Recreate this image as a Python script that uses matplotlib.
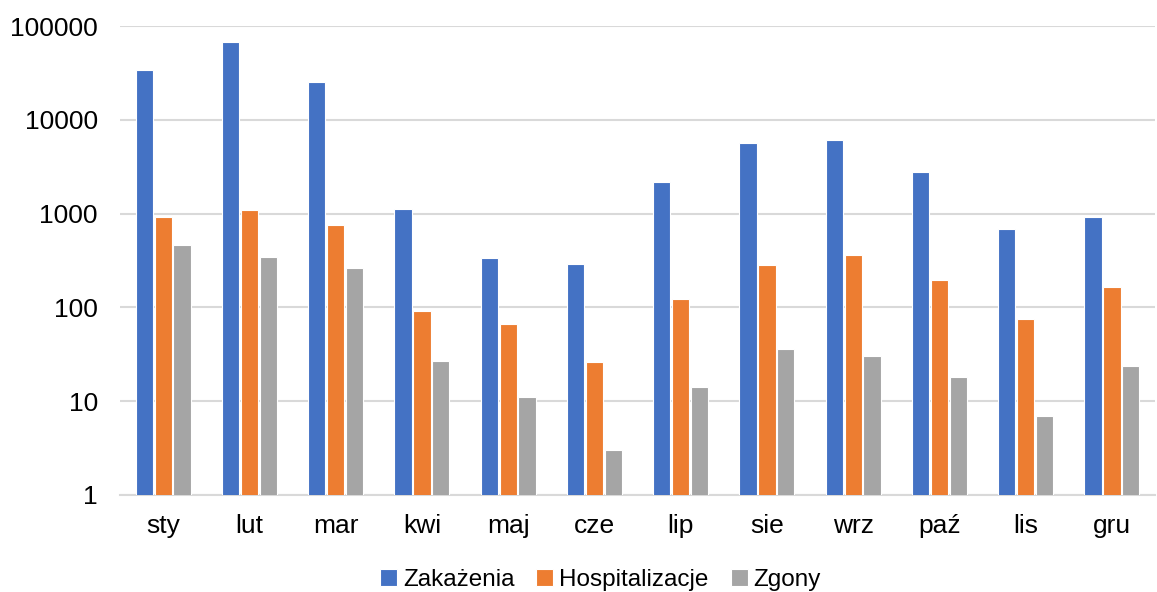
import numpy as np
import matplotlib.pyplot as plt

plt.rcParams['font.family'] = ['Liberation Sans', 'DejaVu Sans']

miesiace = ['sty', 'lut', 'mar', 'kwi', 'maj', 'cze', 'lip', 'sie', 'wrz', 'paź', 'lis', 'gru']
zakazenia = [34000, 67000, 25000, 1130, 340, 290, 2150, 5600, 6100, 2750, 680, 920]
hospitalizacje = [910, 1090, 750, 91, 66, 26, 124, 280, 360, 195, 75, 167]
zgony = [460, 345, 260, 27, 11, 3, 14, 36, 30, 18, 7, 24]

serie = [('Zakażenia', zakazenia, '#4472c4'),
         ('Hospitalizacje', hospitalizacje, '#ed7d31'),
         ('Zgony', zgony, '#a5a5a5')]

fig = plt.figure(figsize=(11.57, 5.92), dpi=100)
ax = fig.add_axes([120 / 1157, 1 - 495 / 592, 1035 / 1157, 469 / 592])

x = np.arange(len(miesiace))
w = 0.2
for i, (nazwa, wartosci, kolor) in enumerate(serie):
    ax.bar(x + (i - 1) * (w + 0.02), wartosci, width=w, color=kolor,
           edgecolor='white', linewidth=0.8, label=nazwa, zorder=3)

ax.set_yscale('log')
ax.set_ylim(1, 100000)
ax.set_xlim(-0.5, len(miesiace) - 0.5)
ax.set_yticks([1, 10, 100, 1000, 10000, 100000])
ax.set_yticklabels(['1', '10', '100', '1000', '10000', '100000'])
ax.yaxis.set_minor_locator(plt.NullLocator())
ax.set_xticks(x)
ax.set_xticklabels(miesiace)
ax.tick_params(axis='both', length=0, labelsize=19, colors='#000000')
ax.tick_params(axis='x', pad=14)
ax.tick_params(axis='y', pad=16)
ax.grid(axis='y', color='#d9d9d9', linewidth=1.5, zorder=0)
for s in ['top', 'right', 'left']:
    ax.spines[s].set_visible(False)
ax.spines['bottom'].set_color('#d9d9d9')
ax.spines['bottom'].set_linewidth(1.5)

fig.legend(loc='lower center', bbox_to_anchor=(0.519, -0.035), ncol=3, frameon=False,
           fontsize=17.5, handlelength=0.7, handleheight=0.7, handletextpad=0.25,
           columnspacing=0.9)

plt.savefig('out.png', dpi=100)
